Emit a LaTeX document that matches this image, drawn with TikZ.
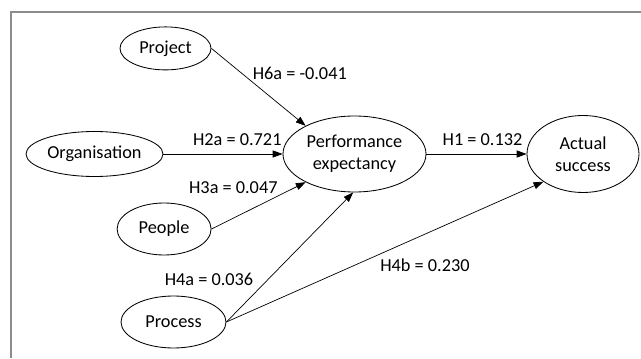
\documentclass[tikz,border=0pt]{standalone}
\usepackage{fontspec}
\setmainfont{Carlito}
\usetikzlibrary{arrows.meta}
\usetikzlibrary{positioning, shapes.geometric}

\begin{document}
\begin{tikzpicture}[->,>={Triangle[length=7pt,width=5pt]},line width=0.5pt,on grid,
                construct/.style={ellipse,draw,line width=0.6pt,inner sep=0pt,align=center,
                                  font=\fontsize{13}{15.6}\selectfont},
                path label/.style={inner sep=1pt,font=\fontsize{13}{15.6}\selectfont}]

        \useasboundingbox (-8.8625,-5.1) rectangle (7.1625,3.85);
        \draw[-,draw=black!45,line width=1.1pt] (7.1625,3.55) -- (-8.5875,3.55) -- (-8.5875,-5.1);

        \node[construct,minimum width=3.575cm,minimum height=1.9cm] (pe) at (0,0) {Performance\\expectancy};
        \node[construct,minimum width=2.8cm,minimum height=1.925cm] (as) [right=5.7125cm of pe] {Actual\\success};
        \node[construct,minimum width=2.275cm,minimum height=1.075cm] (proj) [above left=2.64cm and 4.725cm of pe] {Project};
        \node[construct,minimum width=3.425cm,minimum height=1.125cm] (org) [left=6.5cm of pe] {Organisation};
        \node[construct,minimum width=2.35cm,minimum height=1.3cm] (ppl) [below left=1.875cm and 4.76cm of pe] {People};
        \node[construct,minimum width=2.625cm,minimum height=1.3cm] (proc) [below left=4.2cm and 4.525cm of pe] {Process};

          \path
            (proj.east) edge node[path label,pos=0.42,anchor=south west]  {H6a = -0.041} (pe.150)
            (org)       edge node[path label,pos=0.62,above=4.5pt]        {H2a = 0.721}  (pe)
            (ppl.east)  edge node[path label,pos=0.72,anchor=south east]  {H3a = 0.047}  (pe.210)
            (proc.east) edge node[path label,pos=0.27,anchor=south east,xshift=-4pt] {H4a = 0.036} (pe.268)
                        edge node[path label,pos=0.48,anchor=north west,yshift=-1.5pt] {H4b = 0.230} (as.215)
            (pe)        edge node[path label,pos=0.56,above=4.5pt]        {H1 = 0.132}   (as);
\end{tikzpicture}
\end{document}
